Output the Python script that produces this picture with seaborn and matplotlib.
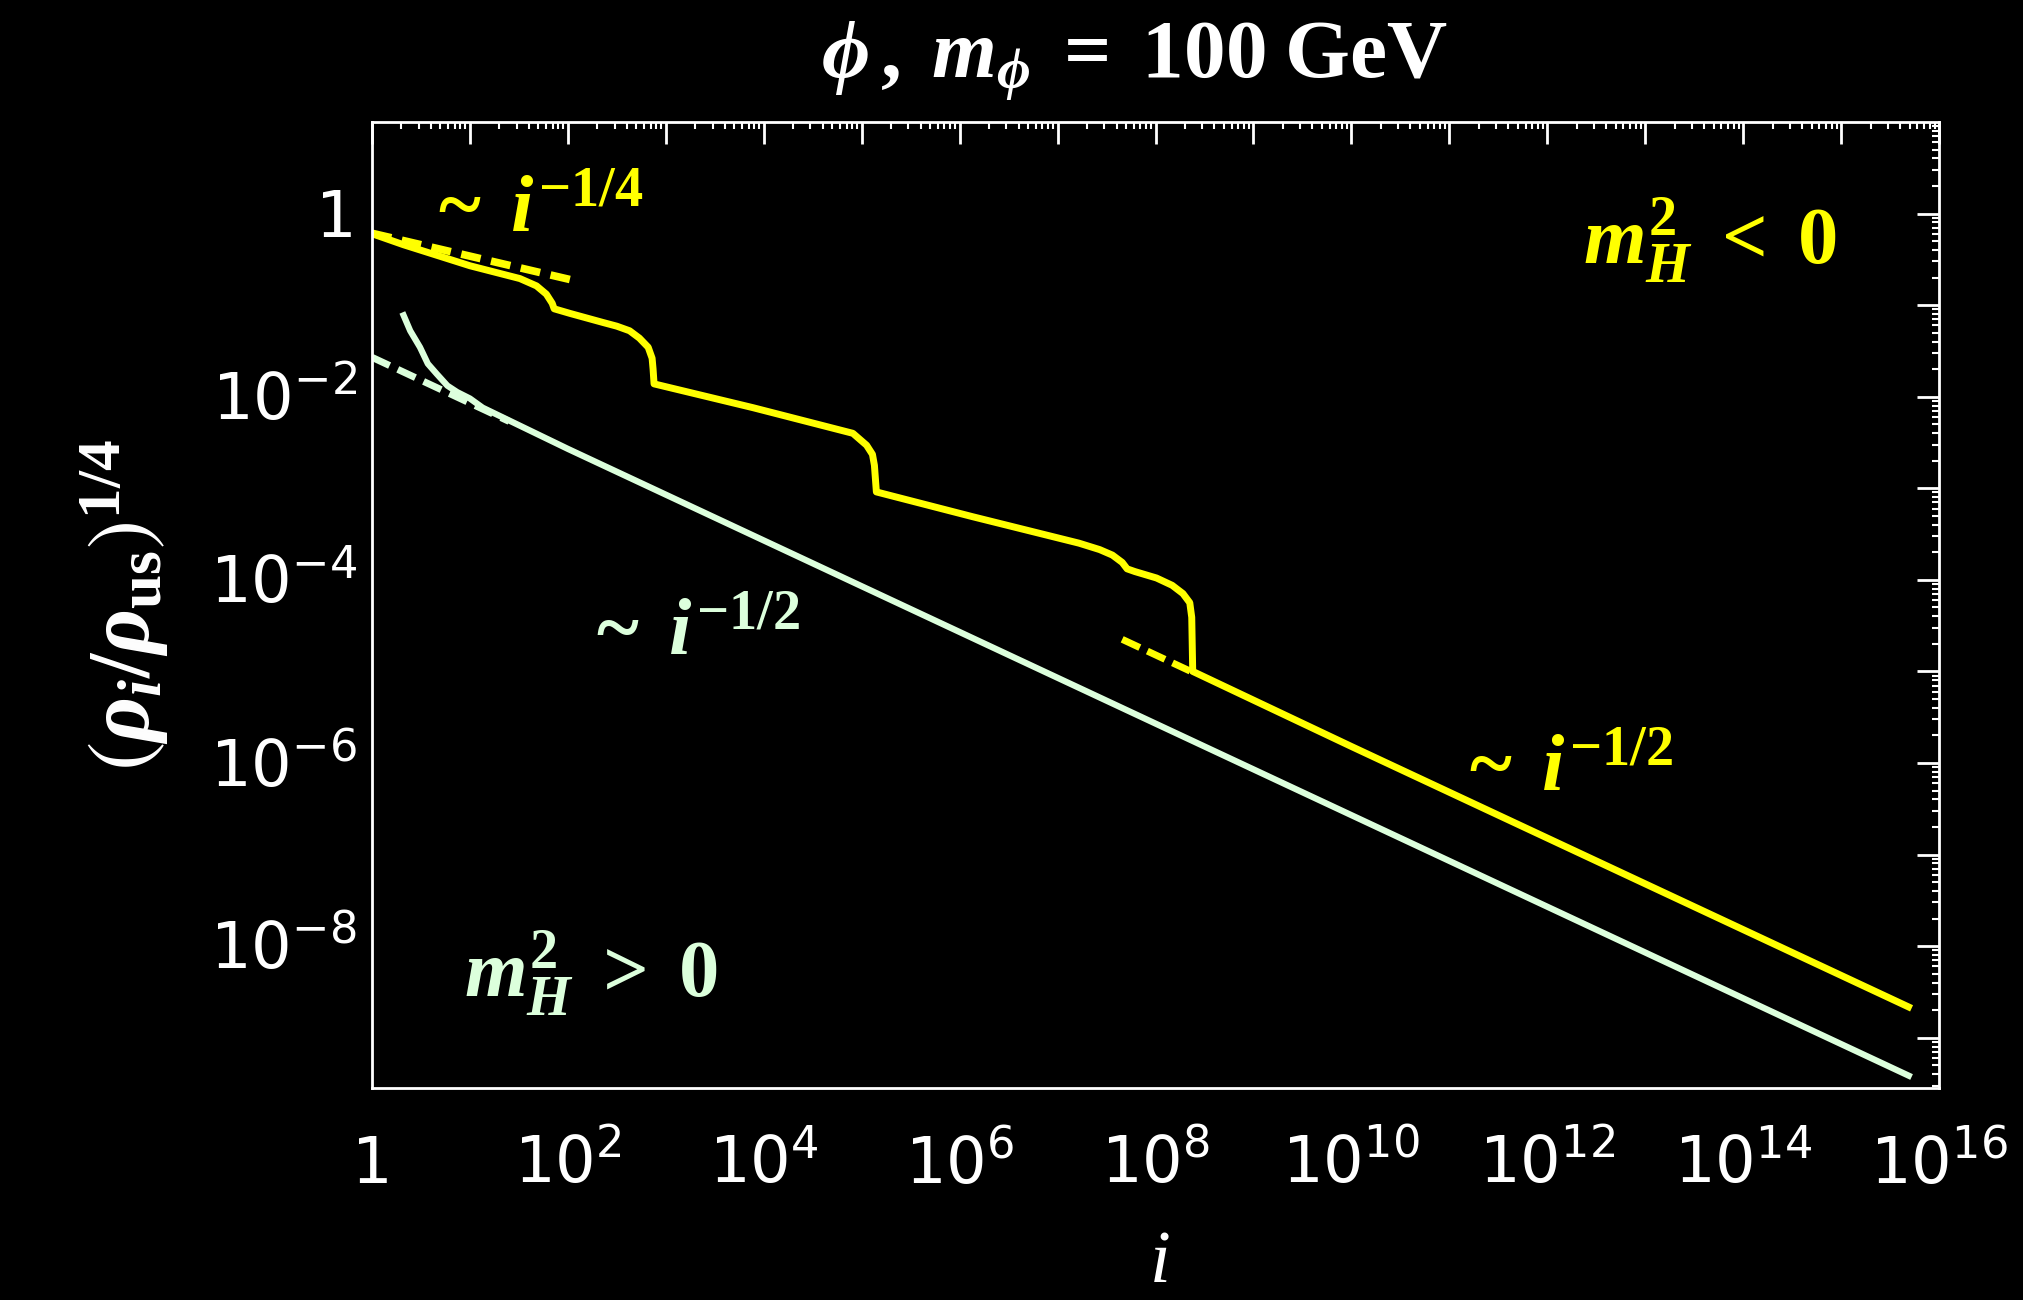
import numpy as np
import pandas as pd
import matplotlib
matplotlib.use("Agg")
import matplotlib.pyplot as plt
import matplotlib.ticker as mticker
from matplotlib.transforms import ScaledTranslation
import seaborn as sns

# ---- curve samples (log10 of i, log10 of (rho_i/rho_us)^(1/4)) ----
# m_H^2 < 0 : staircase decay
yellow_log_i = [0.00, 0.32, 1.00, 1.51, 1.68, 1.78, 1.84, 1.86, 2.02, 2.36, 2.50,
                2.63, 2.73, 2.82, 2.86, 2.87, 2.88, 3.89, 4.91, 5.05, 5.11, 5.13,
                5.15, 6.13, 7.22, 7.43, 7.56, 7.66, 7.71, 7.79, 8.01, 8.17, 8.28,
                8.35, 8.37, 8.38, 10.00, 12.00, 14.00, 15.72]
yellow_log_rho = [-0.22, -0.34, -0.57, -0.71, -0.79, -0.88, -0.98, -1.04, -1.09, -1.19, -1.23,
                  -1.28, -1.36, -1.46, -1.58, -1.70, -1.86, -2.12, -2.40, -2.53, -2.63, -2.75,
                  -3.04, -3.31, -3.60, -3.67, -3.73, -3.81, -3.88, -3.91, -3.98, -4.06, -4.15,
                  -4.25, -4.41, -5.00, -5.82, -6.82, -7.82, -8.68]

# m_H^2 > 0 : fast transient, then i^(-1/2)
green_log_i = [0.31, 0.39, 0.49, 0.57, 0.66, 0.77, 0.87, 1.00, 1.13,
               2.00, 4.00, 6.00, 8.00, 10.00, 12.00, 14.00, 15.72]
green_log_rho = [-1.08, -1.28, -1.46, -1.64, -1.75, -1.88, -1.95, -2.02, -2.12,
                 -2.57, -3.57, -4.57, -5.57, -6.57, -7.57, -8.57, -9.43]

# dashed power-law guides
guide_early_log_i = [0.00, 2.02]          # ~ i^(-1/4)
guide_early_log_rho = [-0.215, -0.72]
guide_green_log_i = [0.00, 1.40]          # ~ i^(-1/2)
guide_green_log_rho = [-1.57, -2.27]
guide_late_log_i = [7.66, 8.38]           # ~ i^(-1/2)
guide_late_log_rho = [-4.65, -5.01]

x_tick_exps = list(range(0, 17))
y_tick_exps = list(range(-9, 1))

YELLOW = "#FFFF00"
MINT = "#DCFFDC"


def frame(log_i, log_rho):
    return pd.DataFrame({"i": 10.0 ** np.asarray(log_i),
                         "rho": 10.0 ** np.asarray(log_rho)})


sns.set_theme(style="dark")
plt.rcParams.update({
    "figure.facecolor": "black",
    "axes.facecolor": "black",
    "savefig.facecolor": "black",
    "axes.edgecolor": "white",
    "axes.linewidth": 2.0,
    "axes.grid": False,
    "text.color": "white",
    "xtick.color": "white",
    "ytick.color": "white",
    "mathtext.fontset": "dejavusans",
    "mathtext.rm": "Liberation Serif:bold",
    "mathtext.it": "Liberation Serif:italic:bold",
    "mathtext.bf": "Liberation Serif:bold",
    "mathtext.fallback": "stix",
})
plt.rcParams["font.family"] = ["DejaVu Sans"]

fig = plt.figure(figsize=(20.23, 13.0), dpi=100)
ax = fig.add_axes([372 / 2023, 1 - 1088 / 1300, 1567 / 2023, 966 / 1300])

line_kw = dict(sort=False, estimator=None, legend=False, ax=ax)
sns.lineplot(data=frame(yellow_log_i, yellow_log_rho), x="i", y="rho", color=YELLOW,
             lw=5.0, solid_capstyle="butt", solid_joinstyle="round", **line_kw)
sns.lineplot(data=frame(green_log_i, green_log_rho), x="i", y="rho", color=MINT,
             lw=4.5, solid_capstyle="butt", solid_joinstyle="round", **line_kw)
sns.lineplot(data=frame(guide_early_log_i, guide_early_log_rho), x="i", y="rho",
             color=YELLOW, lw=5.5, linestyle=(0, (2.6, 1.4)), **line_kw)
sns.lineplot(data=frame(guide_green_log_i, guide_green_log_rho), x="i", y="rho",
             color=MINT, lw=5.0, linestyle=(0, (2.8, 1.3)), **line_kw)
sns.lineplot(data=frame(guide_late_log_i, guide_late_log_rho), x="i", y="rho",
             color=YELLOW, lw=5.0, linestyle=(0, (2.8, 1.2)), **line_kw)

ax.set_xscale("log")
ax.set_yscale("log")
ax.set_xlim(1.0, 1e16)
ax.set_ylim(10 ** -9.55, 10 ** 1.0)


def log_label(v, pos):
    e = int(round(np.log10(v)))
    if e % 2:
        return ""
    if e == 0:
        return "1"
    return r"$10^{%d}$" % e


ax.xaxis.set_major_locator(mticker.FixedLocator([10.0 ** e for e in x_tick_exps]))
ax.yaxis.set_major_locator(mticker.FixedLocator([10.0 ** e for e in y_tick_exps]))
ax.xaxis.set_minor_locator(mticker.LogLocator(base=10, subs=np.arange(2, 10), numticks=400))
ax.yaxis.set_minor_locator(mticker.LogLocator(base=10, subs=np.arange(2, 10), numticks=400))
ax.xaxis.set_major_formatter(mticker.FuncFormatter(log_label))
ax.yaxis.set_major_formatter(mticker.FuncFormatter(log_label))
ax.xaxis.set_minor_formatter(mticker.NullFormatter())
ax.yaxis.set_minor_formatter(mticker.NullFormatter())

ax.tick_params(which="both", direction="in", top=True, right=True, colors="white")
ax.tick_params(which="major", length=16, width=2.0, labelsize=46, pad=0)
ax.tick_params(which="minor", length=5, width=1.5)
for sp in ax.spines.values():
    sp.set_color("white")
    sp.set_linewidth(2.0)

ax.set_xlabel("i", fontsize=54, fontstyle="italic", family="Liberation Serif", color="white")
ax.xaxis.set_label_coords(0.503, -0.148)
ax.set_ylabel(r"$\left(\rho_{i}/\rho_{\mathrm{us}}\right)^{1/4}$", fontsize=63,
              color="white", math_fontfamily="custom")
ax.yaxis.set_label_coords(-0.128, 0.5)

fig.text(0.561, 1 - 77 / 1300, r"$\phi\,,\;m_{\phi}\;=\;100\;\mathrm{GeV}$", fontsize=60,
         ha="center", va="baseline", color="white", math_fontfamily="custom")

note = dict(transform=ax.transAxes, ha="left", va="baseline", family="Liberation Serif",
            fontweight="bold", math_fontfamily="custom", fontsize=58)
ax.text(0.042, 0.886, r"~ $\,i^{-1/4}$", color=YELLOW, **note)
ax.text(0.773, 0.853, r"$m_H^2\;<\;0$", color=YELLOW, **note)
ax.text(0.143, 0.447, r"~ $\,i^{-1/2}$", color=MINT, **note)
ax.text(0.700, 0.307, r"~ $\,i^{-1/2}$", color=YELLOW, **note)
ax.text(0.059, 0.094, r"$m_H^2\;>\;0$", color=MINT, **note)

# place the mantissa "10" of each tick label level with its tick
dpi_t = fig.dpi_scale_trans
for lab in ax.get_xticklabels():
    lab.set_va("baseline")
    lab.set_transform(lab.get_transform() + ScaledTranslation(0, -0.95, dpi_t))
for lab in ax.get_yticklabels():
    lab.set_va("baseline")
    lab.set_transform(lab.get_transform() + ScaledTranslation(-0.15, -0.23, dpi_t))

fig.savefig("out.png", dpi=100, facecolor="black")
